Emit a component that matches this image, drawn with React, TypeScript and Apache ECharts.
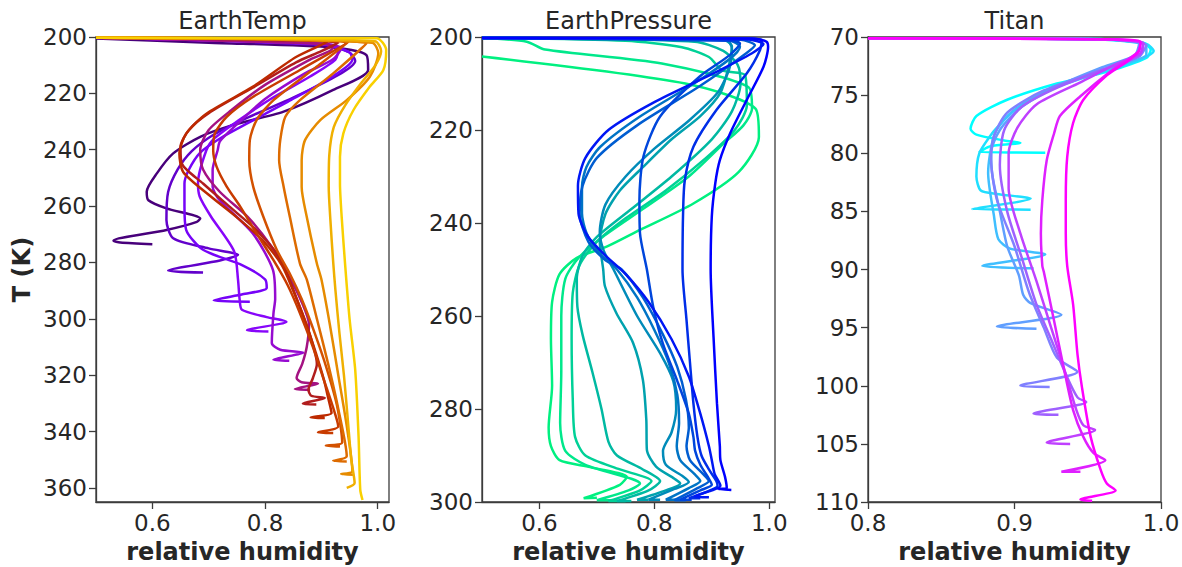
import React, { useEffect, useRef } from "react";
import * as echarts from "echarts";

type Pt = [number, number];

// ---------- EarthTemp (relative humidity, T in K) ----------
const et273: Pt[] = [[0.5,200.5],[0.7,202],[0.921,203.7],[0.98,206.4],[0.983,211.7],[0.921,218.8],[0.833,226.5],[0.744,231.2],[0.685,235.4],[0.637,241.3],[0.608,248.4],[0.59,254.9],[0.593,257.9],[0.625,260.8],[0.685,264.4],[0.679,265.6],[0.625,268.5],[0.531,272.3],[0.543,272.9],[0.6,273.5]];
const et283: Pt[] = [[0.5,200.3],[0.9,202.5],[0.95,205.5],[0.96,208.5],[0.93,213.5],[0.85,221.5],[0.77,228.5],[0.71,234.5],[0.67,240.5],[0.645,247],[0.628,255],[0.625,264.9],[0.637,271.4],[0.7,275],[0.752,277.3],[0.72,279.3],[0.628,282.9],[0.69,283.6]];
const et294: Pt[] = [[0.5,200.3],[0.91,202.8],[0.95,205.5],[0.955,208],[0.92,214],[0.84,223],[0.77,230.5],[0.72,236],[0.685,241],[0.665,247],[0.657,252],[0.657,260],[0.66,268.4],[0.69,275.5],[0.76,281],[0.8,286],[0.803,289.1],[0.76,291.3],[0.709,293.5],[0.773,293.9]];
const et304: Pt[] = [[0.5,200.3],[0.9,202.5],[0.93,204.5],[0.925,208],[0.88,214],[0.81,222],[0.75,230],[0.71,236],[0.696,240.1],[0.681,251.9],[0.684,256.6],[0.704,263.7],[0.745,276],[0.752,286],[0.755,293.3],[0.759,296.8],[0.803,299.4],[0.838,301],[0.768,304.1],[0.806,304.5]];
const et314: Pt[] = [[0.5,200.3],[0.91,202.5],[0.935,204],[0.92,208],[0.87,213],[0.8,222],[0.75,231],[0.72,237],[0.716,240.1],[0.707,247.2],[0.707,253.1],[0.719,257.8],[0.778,269.6],[0.814,282.6],[0.818,293],[0.815,298],[0.812,308.6],[0.827,311],[0.868,312],[0.815,314.5],[0.843,314.9]];
const et325: Pt[] = [[0.5,200.3],[0.91,202.5],[0.92,204],[0.88,208],[0.8,217],[0.74,226],[0.7,233],[0.685,240],[0.69,247],[0.72,255],[0.77,264],[0.81,274],[0.84,284],[0.865,294],[0.878,302],[0.874,310],[0.866,316],[0.856,321],[0.865,322.5],[0.894,323],[0.853,324.9],[0.88,325.2]];
const et330: Pt[] = [[0.5,200.3],[0.93,202],[0.9,205],[0.855,209],[0.778,218],[0.7,227],[0.665,233],[0.65,239],[0.652,244.8],[0.69,252],[0.737,260.2],[0.784,268.4],[0.825,277.9],[0.845,287],[0.862,296],[0.88,306],[0.892,316],[0.885,321],[0.877,325.2],[0.882,327.3],[0.906,328.1],[0.867,330.1],[0.891,330.4]];
const et335: Pt[] = [[0.5,200.3],[0.91,201.8],[0.855,207.1],[0.778,217.7],[0.696,227.2],[0.66,234.3],[0.648,241.4],[0.655,248],[0.7,256],[0.75,264],[0.795,272],[0.83,281],[0.85,290],[0.87,300],[0.89,312],[0.905,322],[0.912,328],[0.918,333.4],[0.881,335],[0.906,335.2]];
const et340: Pt[] = [[0.5,200.3],[0.945,202],[0.862,211.7],[0.779,221.2],[0.732,228.3],[0.711,234.2],[0.708,240.1],[0.714,246],[0.732,253.1],[0.756,260.2],[0.785,269.7],[0.815,279.2],[0.84,288],[0.862,298],[0.885,310],[0.905,322],[0.92,331],[0.93,338.2],[0.894,340.3],[0.921,340.5]];
const et345: Pt[] = [[0.5,200.3],[0.948,201.7],[0.892,210.5],[0.815,222.4],[0.785,229.5],[0.773,236.6],[0.772,243.7],[0.779,253.1],[0.797,263.8],[0.821,275.6],[0.844,284],[0.865,293],[0.888,305],[0.91,318],[0.928,331],[0.937,343.9],[0.908,345],[0.933,345.3]];
const et350: Pt[] = [[0.5,200.3],[0.98,202.2],[0.921,212.9],[0.862,222.4],[0.836,228.3],[0.827,236.6],[0.825,243.7],[0.833,253.1],[0.844,263.8],[0.862,280.4],[0.874,286],[0.892,300],[0.912,316],[0.93,332],[0.945,348.8],[0.921,350.4],[0.945,350.6]];
const et355: Pt[] = [[0.5,200.3],[0.99,202],[1.001,205.8],[0.986,214.1],[0.945,222.4],[0.898,229.5],[0.871,236.6],[0.865,243.7],[0.865,253.1],[0.874,263.8],[0.892,280.4],[0.9,286],[0.915,302],[0.93,320],[0.945,338],[0.955,354.1],[0.935,355.1],[0.956,355.3]];
const et360: Pt[] = [[0.5,200.3],[0.995,201.5],[1.006,205],[0.996,210],[0.972,216],[0.943,224],[0.922,232],[0.914,242],[0.913,253],[0.916,265],[0.921,280],[0.925,290],[0.932,305],[0.94,320],[0.947,336],[0.953,350],[0.959,358.3],[0.945,360]];
const et364: Pt[] = [[0.5,200.3],[0.998,200.4],[1.015,204.6],[1.01,211.7],[0.986,217.6],[0.957,225.9],[0.939,234.2],[0.933,242.5],[0.933,252],[0.936,263.8],[0.942,280.4],[0.95,300],[0.96,318],[0.966,341.8],[0.969,360.7],[0.973,364.3]];
const earthTempLines: Pt[][] = [et273, et283, et294, et304, et314, et325, et330, et335, et340, et345, et350, et355, et360, et364];
const earthTempColors = ["#48007b","#6201cb","#7603f8","#8706fa","#960bd0","#a41282","#b11d1d","#bd2a00","#c83b00","#d35100","#dd6b00","#e68b00","#f0b000","#f9d000"];

// ---------- EarthPressure ----------
const ep0: Pt[] = [[0.5,204.2],[0.854,210],[0.976,215.4],[0.982,221.5],[0.947,229],[0.868,235.8],[0.775,241.5],[0.717,245.1],[0.665,247.5],[0.635,251],[0.622,257],[0.62,265],[0.622,275],[0.616,284],[0.62,288],[0.635,291],[0.688,292.5],[0.752,294.6],[0.74,296.3],[0.677,299.2],[0.7,299.1]];
const ep1: Pt[] = [[0.5,200.2],[0.578,201],[0.61,202.7],[0.813,205.7],[0.964,210.8],[0.97,215.4],[0.955,219],[0.92,223],[0.86,230],[0.78,237],[0.71,243],[0.668,247.5],[0.645,252],[0.638,260],[0.638,272],[0.636,283],[0.645,289],[0.68,292],[0.76,295],[0.775,296],[0.755,297.5],[0.7,299.6],[0.725,299.6]];
const ep2: Pt[] = [[0.5,200.2],[0.75,200.8],[0.848,202.2],[0.895,204.3],[0.918,207.2],[0.958,208.2],[0.961,214.7],[0.94,220],[0.89,226],[0.82,233],[0.75,239],[0.7,244],[0.67,249],[0.658,255],[0.656,265],[0.658,278],[0.662,286],[0.68,290],[0.74,293],[0.795,295.5],[0.775,297.5],[0.72,299.8],[0.75,299.8]];
const ep3: Pt[] = [[0.5,200.2],[0.87,201],[0.92,203],[0.945,206],[0.95,210],[0.935,216],[0.9,222],[0.83,230],[0.76,237],[0.7,243],[0.675,247],[0.665,252],[0.666,258],[0.675,264],[0.692,272],[0.708,280],[0.72,287],[0.735,290],[0.78,293],[0.81,295.5],[0.79,297.5],[0.735,299.8],[0.76,299.8]];
const ep4: Pt[] = [[0.5,200.2],[0.92,200.6],[0.935,202],[0.93,206],[0.915,212],[0.88,217],[0.83,222],[0.78,228],[0.74,233],[0.715,238],[0.705,244],[0.711,250],[0.714,253.6],[0.734,259.4],[0.763,265.8],[0.78,273.7],[0.786,282.3],[0.787,288.8],[0.803,292.4],[0.835,295],[0.845,296],[0.82,297.5],[0.77,299.5],[0.79,299.5]];
const ep5: Pt[] = [[0.5,200.2],[0.925,200.6],[0.935,202.5],[0.93,207],[0.91,212],[0.86,218],[0.8,224],[0.75,230],[0.715,236],[0.705,242],[0.712,246],[0.729,250],[0.77,260],[0.81,268],[0.833,274],[0.838,280],[0.83,285],[0.815,289],[0.82,292],[0.85,294.5],[0.86,295.7],[0.835,297.2],[0.79,299.5],[0.81,299.5]];
const ep6: Pt[] = [[0.5,200.2],[0.93,200.7],[0.949,202.1],[0.879,209.2],[0.775,217.1],[0.706,223.6],[0.682,227.9],[0.674,232.2],[0.674,237.9],[0.682,242.2],[0.705,246.5],[0.735,250],[0.77,256],[0.8,263],[0.825,270],[0.84,277],[0.843,283],[0.839,288],[0.845,291],[0.87,294],[0.88,295.5],[0.86,297],[0.82,299.5],[0.84,299.5]];
const ep7: Pt[] = [[0.5,200.2],[0.95,200.6],[0.975,201.8],[0.96,203.5],[0.88,210.5],[0.77,219],[0.7,226],[0.675,232],[0.67,238],[0.685,244],[0.715,248],[0.743,250],[0.78,256],[0.815,264],[0.84,271],[0.855,278],[0.86,284],[0.856,288],[0.862,291],[0.885,294],[0.895,295.5],[0.875,297],[0.835,299.6],[0.855,299.6]];
const ep8: Pt[] = [[0.5,200.2],[0.93,200.8],[0.949,201.4],[0.93,204],[0.879,208.5],[0.81,217.1],[0.781,225.7],[0.774,235.1],[0.775,242.2],[0.787,250],[0.798,258],[0.815,266],[0.84,274],[0.86,281],[0.868,286],[0.871,289],[0.88,292],[0.895,295],[0.9,296.3],[0.88,297.5],[0.845,299.5],[0.865,299.5]];
const ep9: Pt[] = [[0.5,200.2],[0.96,200.3],[0.987,200.6],[0.984,202.8],[0.961,207.8],[0.908,215.7],[0.868,223.6],[0.853,230.8],[0.85,237.9],[0.849,250],[0.856,260.9],[0.862,270],[0.868,278.8],[0.875,286],[0.882,290],[0.895,293],[0.908,295.5],[0.91,296.5],[0.895,297.6],[0.86,299.2],[0.88,299.2]];
const ep10: Pt[] = [[0.5,200.2],[0.96,200.5],[0.99,201.5],[0.97,203.5],[0.9,208],[0.8,214],[0.72,220],[0.68,226],[0.667,232],[0.668,238],[0.685,243],[0.715,247],[0.75,251],[0.79,257],[0.83,265],[0.86,273],[0.88,281],[0.895,288],[0.9,291],[0.905,294],[0.915,296.5],[0.9,297.5],[0.87,298.8],[0.895,299]];
const ep11: Pt[] = [[0.5,200.2],[0.97,200.3],[0.995,201],[0.998,202.1],[0.99,206.4],[0.961,213.5],[0.932,220.7],[0.914,226.5],[0.906,231.5],[0.9,238.6],[0.898,250],[0.903,264.5],[0.909,278.8],[0.914,288],[0.915,291],[0.923,294.6],[0.926,297],[0.911,297.2],[0.934,297.4]];
const earthPressureLines: Pt[][] = [ep0, ep1, ep2, ep3, ep4, ep5, ep6, ep7, ep8, ep9, ep10, ep11];
const earthPressureColors = ["#00f080","#00e88b","#00d197","#00b9a2","#00a2ae","#008bb9","#0074c5","#005dd1","#0046dc","#002ee8","#0017f4","#0000ff"];

// ---------- Titan ----------
const ti0: Pt[] = [[0.8,70.1],[0.95,70.15],[0.988,70.5],[0.993,71.1],[0.99,71.8],[0.963,73],[0.929,74],[0.895,75.4],[0.874,76.8],[0.87,77.9],[0.874,78.4],[0.893,78.9],[0.904,79.1],[0.8835,79.4],[0.876,79.9],[0.921,79.95]];
const ti1: Pt[] = [[0.8,70.1],[0.95,70.2],[0.99,70.6],[0.995,71.2],[0.985,72],[0.955,73.2],[0.925,74.5],[0.9,76.3],[0.888,77.8],[0.8835,78.5],[0.876,80],[0.874,82],[0.877,83.2],[0.888,83.5],[0.911,83.9],[0.871,84.8],[0.911,84.85]];
const ti2: Pt[] = [[0.8,70.1],[0.96,70.2],[0.99,70.7],[0.99,71.5],[0.975,72.3],[0.945,73.5],[0.915,75],[0.895,76.8],[0.886,78.5],[0.882,81.7],[0.886,85.4],[0.889,87.4],[0.897,88.2],[0.921,88.7],[0.878,89.7],[0.913,89.9]];
const ti3: Pt[] = [[0.8,70.1],[0.96,70.2],[0.985,70.6],[0.982,71.6],[0.96,72.6],[0.93,74.2],[0.905,76],[0.89,78],[0.884,80],[0.885,82],[0.89,85],[0.895,88],[0.903,90.5],[0.906,92.2],[0.911,92.9],[0.932,93.9],[0.888,94.9],[0.915,95.1]];
const ti4: Pt[] = [[0.8,70.1],[0.96,70.2],[0.99,70.7],[0.985,71.7],[0.96,72.8],[0.92,74.6],[0.895,76.5],[0.886,78.5],[0.884,80.5],[0.888,84],[0.9,88],[0.91,92],[0.92,95],[0.929,97.6],[0.943,98.8],[0.904,100],[0.924,100.1]];
const ti5: Pt[] = [[0.8,70.1],[0.96,70.2],[0.988,70.6],[0.985,71.6],[0.965,72.6],[0.93,74.3],[0.905,76],[0.893,78],[0.89,81],[0.895,85],[0.905,89],[0.915,93],[0.925,96],[0.935,99],[0.943,101],[0.949,101.4],[0.913,102.4],[0.93,102.5]];
const ti6: Pt[] = [[0.8,70.1],[0.96,70.2],[0.988,70.5],[0.986,71.4],[0.97,72.3],[0.945,73.9],[0.915,75.8],[0.902,77.8],[0.896,80],[0.896,83],[0.904,86.9],[0.915,91],[0.925,95],[0.935,99],[0.942,102],[0.947,103.4],[0.955,103.8],[0.922,104.9],[0.938,105]];
const ti7: Pt[] = [[0.8,70.1],[0.96,70.2],[0.986,70.5],[0.984,71.3],[0.966,72.9],[0.945,75.1],[0.931,76.8],[0.927,78.3],[0.922,80.6],[0.919,84],[0.918,86.9],[0.919,89.7],[0.92,90.2],[0.927,94.4],[0.934,98.7],[0.94,102.1],[0.947,104.4],[0.954,105.8],[0.962,106.4],[0.932,107.4],[0.945,107.4]];
const ti8: Pt[] = [[0.8,70.1],[0.96,70.2],[0.986,70.4],[0.985,71.2],[0.977,72.1],[0.963,73.3],[0.947,75.4],[0.94,77.4],[0.936,80.3],[0.935,84],[0.935,86.9],[0.936,89.7],[0.94,93],[0.943,97.3],[0.946,100.1],[0.952,104.4],[0.959,107.3],[0.963,108.4],[0.969,109],[0.945,109.8],[0.953,109.9]];
const titanLines: Pt[][] = [ti0, ti1, ti2, ti3, ti4, ti5, ti6, ti7, ti8];
const titanColors = ["#00ffff","#20dfff","#40bfff","#609fff","#8080ff","#9f60ff","#bf40ff","#df20ff","#ff00ff"];

// ---------- axes ----------
const panelTitles = ["EarthTemp", "EarthPressure", "Titan"];
const xTicks = [[0.6, 0.8, 1.0], [0.6, 0.8, 1.0], [0.8, 0.9, 1.0]];
const xRanges = [[0.5, 1.02], [0.5, 1.01], [0.8, 1.0]];
const yTicks = [[200, 220, 240, 260, 280, 300, 320, 340, 360], [200, 220, 240, 260, 280, 300], [70, 75, 80, 85, 90, 95, 100, 105, 110]];
const yRanges = [[200, 365], [200, 300], [70, 110]];

const FONT = "DejaVu Sans";
const TEXT = "#262626";
const FRAME = "#3c3c3c";
const gridLefts = [96, 482, 868];
const GRID_TOP = 37;
const GRID_W = 293;
const GRID_H = 465;

export default function App() {
  const ref = useRef<HTMLDivElement>(null);
  useEffect(() => {
    if (!ref.current) return;
    const chart = echarts.init(ref.current, null, { renderer: "svg" });
    const grid = gridLefts.map((l) => ({
      left: l, top: GRID_TOP, width: GRID_W, height: GRID_H,
      containLabel: false, outerBoundsMode: "none",
      show: true, borderColor: FRAME, borderWidth: 1.3, backgroundColor: "transparent",
    }));
    const xAxis = [0, 1, 2].map((i) => ({
      type: "value", gridIndex: i, min: xRanges[i][0], max: xRanges[i][1],
      axisLine: { show: true, onZero: false, lineStyle: { color: FRAME, width: 1.3 } },
      axisTick: { show: true, length: 7, customValues: xTicks[i], lineStyle: { color: FRAME, width: 1.3 } },
      axisLabel: { customValues: xTicks[i], formatter: (v: number) => v.toFixed(1), fontSize: 23, color: TEXT, fontFamily: FONT, margin: 9 },
      splitLine: { show: false },
      name: "relative humidity", nameLocation: "middle", nameGap: 38,
      nameTextStyle: { fontSize: 24, fontWeight: "bold", color: TEXT, fontFamily: FONT },
    }));
    const yAxis = [0, 1, 2].map((i) => ({
      type: "value", gridIndex: i, inverse: true, min: yRanges[i][0], max: yRanges[i][1],
      axisLine: { show: true, onZero: false, lineStyle: { color: FRAME, width: 1.3 } },
      axisTick: { show: true, length: 7, customValues: yTicks[i], lineStyle: { color: FRAME, width: 1.3 } },
      axisLabel: { customValues: yTicks[i], formatter: (v: number) => String(v), fontSize: 23, color: TEXT, fontFamily: FONT, margin: 9 },
      splitLine: { show: false },
      ...(i === 0 ? {
        name: "T (K)", nameLocation: "middle", nameGap: 62, nameRotate: 90,
        nameTextStyle: { fontSize: 24, fontWeight: "bold", color: TEXT, fontFamily: FONT },
      } : {}),
    }));
    const mk = (lines: Pt[][], colors: string[], idx: number) =>
      lines.map((d, k) => ({
        type: "line", xAxisIndex: idx, yAxisIndex: idx, data: d,
        showSymbol: false, symbol: "none", smooth: 0.25, clip: true,
        lineStyle: { color: colors[k], width: 2.5 }, z: 2 + k,
      }));
    const series = [
      ...mk(earthTempLines, earthTempColors, 0),
      ...mk(earthPressureLines, earthPressureColors, 1),
      ...mk(titanLines, titanColors, 2),
    ];
    const graphic = panelTitles.map((t, i) => ({
      type: "text", x: gridLefts[i] + GRID_W / 2, y: 21,
      style: { text: t, fontSize: 24, fontFamily: FONT, fill: TEXT, align: "center", verticalAlign: "middle" },
    }));
    chart.setOption({ animation: false, backgroundColor: "#ffffff", grid, xAxis, yAxis, series, graphic } as any);
    return () => chart.dispose();
  }, []);
  return <div ref={ref} style={{ position: "absolute", left: 0, top: 0, width: 1182, height: 567 }} />;
}
